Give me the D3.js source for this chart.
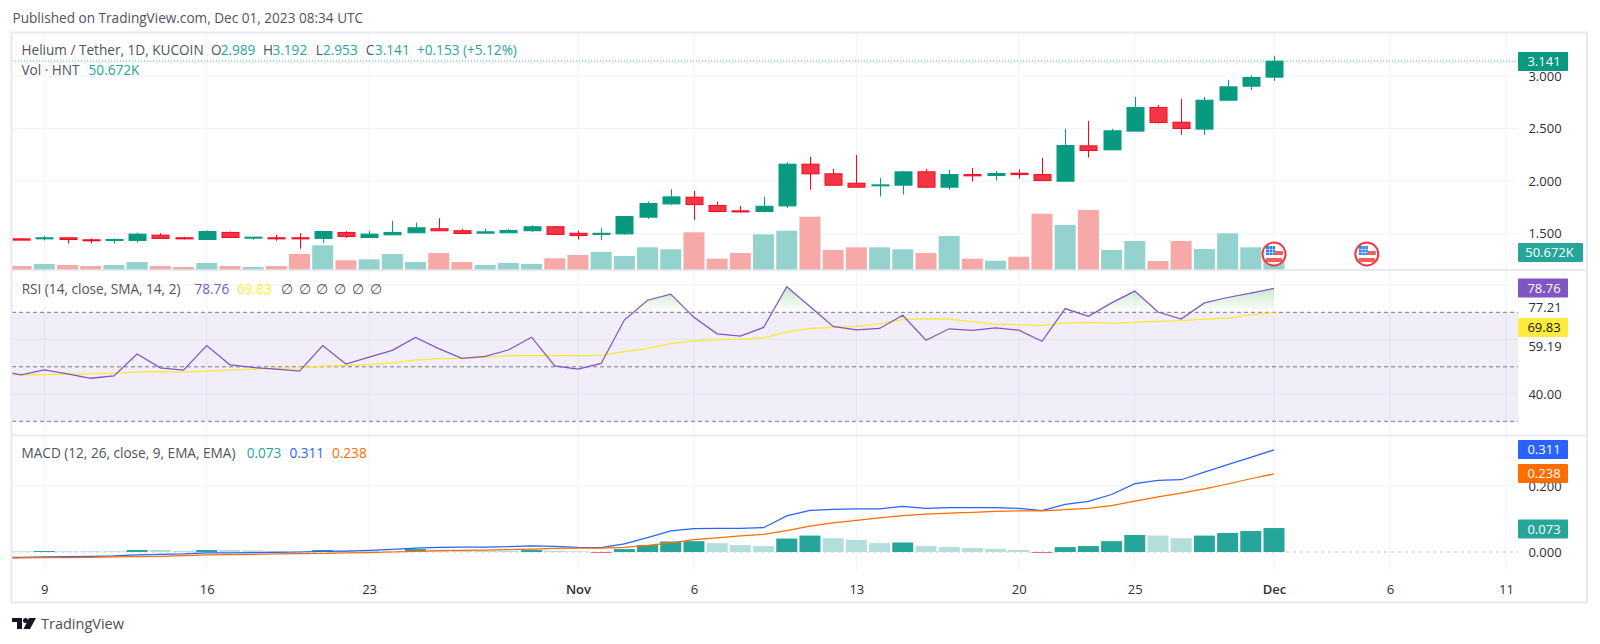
<!DOCTYPE html>
<html>
<head>
<meta charset="utf-8">
<title>Helium / Tether, 1D, KUCOIN</title>
<script src="https://cdn.jsdelivr.net/npm/d3@7"></script>
<style>
  html, body { margin: 0; padding: 0; background: #fff; }
  svg { display: block; }
  text { font-family: "Open Sans", "Noto Sans", sans-serif; font-size: 13px; fill: #131722; }
  .tick_label { fill: #2a2e39; }
</style>
</head>
<body>
<div id="chart"></div>
<script>
var up_color = "#089981",
    down_color = "#f23645",
    grid_color = "#f0f3fa",
    frame_color = "#e9e9f1"

// date, open, high, low, close, volume (K), rsi, rsi sma, macd, signal, histogram
var rows = [
  ["2023-10-07", 1.450, 1.460, 1.440, 1.452, 12.0, 48.77, 46.90, -0.017, -0.019, 0.002],
  ["2023-10-08", 1.452, 1.460, 1.440, 1.440, 11.9, 47.04, 47.04, -0.016, -0.018, 0.002],
  ["2023-10-09", 1.452, 1.481, 1.437, 1.462, 17.9, 48.89, 47.16, -0.015, -0.017, 0.003],
  ["2023-10-10", 1.462, 1.462, 1.408, 1.446, 14.9, 47.41, 47.28, -0.014, -0.017, 0.002],
  ["2023-10-11", 1.443, 1.456, 1.408, 1.437, 11.9, 45.80, 47.41, -0.013, -0.016, 0.002],
  ["2023-10-12", 1.437, 1.456, 1.408, 1.446, 14.9, 46.67, 47.65, -0.012, -0.015, 0.002],
  ["2023-10-13", 1.437, 1.510, 1.418, 1.497, 23.8, 54.69, 48.02, -0.009, -0.014, 0.006],
  ["2023-10-14", 1.487, 1.506, 1.456, 1.456, 11.9, 49.63, 48.27, -0.007, -0.013, 0.006],
  ["2023-10-15", 1.462, 1.471, 1.446, 1.452, 8.9, 48.77, 48.02, -0.006, -0.011, 0.003],
  ["2023-10-16", 1.446, 1.532, 1.446, 1.522, 20.9, 57.78, 48.40, -0.003, -0.009, 0.006],
  ["2023-10-17", 1.513, 1.522, 1.465, 1.465, 11.9, 50.74, 48.77, -0.003, -0.008, 0.006],
  ["2023-10-18", 1.462, 1.468, 1.443, 1.468, 8.9, 49.75, 49.14, -0.002, -0.007, 0.005],
  ["2023-10-19", 1.462, 1.490, 1.433, 1.452, 11.9, 49.14, 49.51, -0.001, -0.006, 0.003],
  ["2023-10-20", 1.462, 1.506, 1.357, 1.452, 47.7, 48.40, 49.63, 0.000, -0.005, 0.002],
  ["2023-10-21", 1.456, 1.522, 1.414, 1.522, 73.6, 57.78, 50.25, 0.002, -0.004, 0.006],
  ["2023-10-22", 1.513, 1.525, 1.462, 1.475, 28.9, 50.99, 50.49, 0.003, -0.003, 0.004],
  ["2023-10-23", 1.465, 1.525, 1.465, 1.497, 31.9, 53.58, 50.86, 0.005, -0.002, 0.003],
  ["2023-10-24", 1.490, 1.624, 1.490, 1.513, 47.7, 56.05, 51.48, 0.008, 0.000, 0.002],
  ["2023-10-25", 1.510, 1.605, 1.510, 1.557, 23.8, 60.74, 52.47, 0.012, 0.002, 0.009],
  ["2023-10-26", 1.548, 1.649, 1.529, 1.529, 50.7, 56.67, 52.96, 0.014, 0.004, 0.007],
  ["2023-10-27", 1.529, 1.548, 1.503, 1.503, 23.8, 53.09, 53.09, 0.015, 0.005, 0.005],
  ["2023-10-28", 1.506, 1.551, 1.506, 1.519, 14.9, 53.83, 53.46, 0.015, 0.006, 0.004],
  ["2023-10-29", 1.510, 1.548, 1.510, 1.532, 20.9, 56.17, 54.07, 0.016, 0.007, 0.003],
  ["2023-10-30", 1.529, 1.579, 1.519, 1.567, 17.9, 60.86, 54.07, 0.019, 0.009, 0.006],
  ["2023-10-31", 1.567, 1.573, 1.494, 1.494, 34.9, 50.37, 54.07, 0.017, 0.011, 0.004],
  ["2023-11-01", 1.505, 1.531, 1.445, 1.483, 44.7, 49.14, 54.07, 0.014, 0.012, 0.002],
  ["2023-11-02", 1.493, 1.556, 1.439, 1.505, 53.6, 51.23, 54.20, 0.013, 0.012, -0.002],
  ["2023-11-03", 1.499, 1.664, 1.490, 1.664, 41.7, 67.16, 55.56, 0.025, 0.014, 0.009],
  ["2023-11-04", 1.658, 1.807, 1.642, 1.788, 67.6, 74.44, 56.67, 0.044, 0.020, 0.021],
  ["2023-11-05", 1.784, 1.924, 1.775, 1.851, 61.7, 76.67, 58.52, 0.064, 0.028, 0.032],
  ["2023-11-06", 1.848, 1.908, 1.632, 1.778, 112.3, 68.15, 59.51, 0.071, 0.038, 0.033],
  ["2023-11-07", 1.769, 1.807, 1.712, 1.712, 33.7, 62.10, 60.00, 0.072, 0.043, 0.027],
  ["2023-11-08", 1.718, 1.765, 1.702, 1.712, 50.7, 61.23, 60.12, 0.072, 0.049, 0.021],
  ["2023-11-09", 1.712, 1.851, 1.702, 1.762, 106.4, 64.44, 60.62, 0.074, 0.054, 0.018],
  ["2023-11-10", 1.765, 2.181, 1.746, 2.162, 117.1, 79.38, 62.72, 0.110, 0.065, 0.041],
  ["2023-11-11", 2.162, 2.231, 1.918, 2.070, 158.8, 72.10, 64.07, 0.127, 0.079, 0.050],
  ["2023-11-12", 2.070, 2.117, 1.962, 1.962, 59.6, 64.81, 64.44, 0.130, 0.089, 0.042],
  ["2023-11-13", 1.981, 2.250, 1.943, 1.943, 67.6, 63.58, 64.81, 0.131, 0.096, 0.037],
  ["2023-11-14", 1.959, 2.029, 1.854, 1.965, 67.6, 64.07, 65.80, 0.131, 0.104, 0.027],
  ["2023-11-15", 1.962, 2.098, 1.873, 2.089, 61.7, 68.89, 67.28, 0.139, 0.111, 0.029],
  ["2023-11-16", 2.089, 2.117, 1.943, 1.943, 50.7, 59.75, 67.65, 0.133, 0.115, 0.018],
  ["2023-11-17", 1.943, 2.108, 1.918, 2.063, 101.3, 63.95, 67.53, 0.135, 0.118, 0.015],
  ["2023-11-18", 2.063, 2.127, 1.997, 2.051, 33.7, 63.33, 66.54, 0.135, 0.121, 0.012],
  ["2023-11-19", 2.054, 2.098, 2.006, 2.073, 27.7, 64.32, 65.68, 0.135, 0.124, 0.009],
  ["2023-11-20", 2.076, 2.114, 2.022, 2.063, 39.6, 63.46, 65.43, 0.133, 0.125, 0.006],
  ["2023-11-21", 2.063, 2.222, 2.006, 2.006, 167.8, 59.38, 65.19, 0.126, 0.125, -0.002],
  ["2023-11-22", 2.000, 2.498, 2.000, 2.339, 134.1, 71.36, 66.05, 0.145, 0.129, 0.015],
  ["2023-11-23", 2.336, 2.574, 2.225, 2.292, 178.8, 68.52, 66.30, 0.154, 0.133, 0.018],
  ["2023-11-24", 2.298, 2.498, 2.298, 2.479, 59.6, 73.46, 65.93, 0.175, 0.141, 0.033],
  ["2023-11-25", 2.476, 2.802, 2.476, 2.701, 86.4, 77.78, 66.30, 0.208, 0.155, 0.052],
  ["2023-11-26", 2.701, 2.723, 2.548, 2.558, 26.8, 70.12, 66.67, 0.218, 0.168, 0.050],
  ["2023-11-27", 2.561, 2.783, 2.441, 2.501, 86.4, 67.53, 66.91, 0.220, 0.179, 0.042],
  ["2023-11-28", 2.495, 2.802, 2.441, 2.770, 62.6, 73.46, 67.53, 0.243, 0.192, 0.050],
  ["2023-11-29", 2.770, 2.964, 2.770, 2.897, 109.4, 75.43, 67.90, 0.266, 0.207, 0.058],
  ["2023-11-30", 2.903, 3.005, 2.865, 2.986, 67.6, 77.04, 69.01, 0.288, 0.223, 0.064],
  ["2023-12-01", 2.989, 3.192, 2.953, 3.141, 50.672, 78.76, 69.83, 0.311, 0.238, 0.073]
]

var parse_date = d3.utcParse("%Y-%m-%d")
var data = rows.map(function (r) {
  return {
    "date": parse_date(r[0]), "open": r[1], "high": r[2], "low": r[3], "close": r[4],
    "volume": r[5], "rsi": r[6], "sma": r[7], "macd": r[8], "signal": r[9], "hist": r[10]
  }
})

var dimensions = {
  "plot_left": 12, "plot_right": 1518,
  "main_top": 33, "main_bottom": 270,
  "rsi_top": 271, "rsi_bottom": 435,
  "macd_top": 436, "macd_bottom": 570,
  "body_width": 17, "bar_width": 21
}

var svg = d3.select("#chart").append("svg")
  .attr("width", 1600)
  .attr("height", 644)

var defs = svg.append("defs")
function addClip(id, top, bottom) {
  defs.append("clipPath").attr("id", id).append("rect")
    .attr("x", dimensions.plot_left)
    .attr("y", top)
    .attr("width", dimensions.plot_right - dimensions.plot_left)
    .attr("height", bottom - top)
}
addClip("main_clip", dimensions.main_top, dimensions.main_bottom)
addClip("rsi_clip", dimensions.rsi_top, dimensions.rsi_bottom)
addClip("macd_clip", dimensions.macd_top, dimensions.macd_bottom)

// Scales
var x = d3.scaleUtc()
  .domain([parse_date("2023-10-09"), parse_date("2023-12-01")])
  .range([44.3, 1274])
var price = d3.scaleLinear().domain([1.5, 3]).range([233.8, 76])
var volume = d3.scaleLinear().domain([0, 178.8]).range([270, 210])
var rsi = d3.scaleLinear().domain([30, 70]).range([421.3, 312.3])
var macd = d3.scaleLinear().domain([0, 0.2]).range([552, 486.3])

// Grid
var time_ticks = ["2023-10-09", "2023-10-16", "2023-10-23", "2023-11-01", "2023-11-06", "2023-11-13",
  "2023-11-20", "2023-11-25", "2023-12-01", "2023-12-06", "2023-12-11"].map(parse_date)

var grid = svg.append("g").attr("class", "grid")
grid.selectAll("line.v").data(time_ticks).join("line")
  .attr("class", "v")
  .attr("x1", function (d) { return x(d) })
  .attr("x2", function (d) { return x(d) })
  .attr("y1", dimensions.main_top)
  .attr("y2", dimensions.macd_bottom)
  .attr("stroke", grid_color)

var h_lines = [3, 2.5, 2, 1.5].map(function (d) { return price(d) })
  .concat([80, 60, 40].map(function (d) { return rsi(d) }))
  .concat([macd(0.2)])
grid.selectAll("line.h").data(h_lines).join("line")
  .attr("class", "h")
  .attr("x1", dimensions.plot_left)
  .attr("x2", dimensions.plot_right)
  .attr("y1", function (d) { return d })
  .attr("y2", function (d) { return d })
  .attr("stroke", grid_color)

// Last price line
svg.append("line")
  .attr("x1", dimensions.plot_left)
  .attr("x2", dimensions.plot_right)
  .attr("y1", price(3.141))
  .attr("y2", price(3.141))
  .attr("stroke", up_color)
  .attr("stroke-opacity", 0.7)
  .attr("stroke-dasharray", "1,2")

// Volume
var main_space = svg.append("g").attr("clip-path", "url(#main_clip)")
main_space.selectAll("rect.volume").data(data).join("rect")
  .attr("class", "volume")
  .attr("x", function (d) { return x(d.date) - dimensions.bar_width / 2 })
  .attr("y", function (d) { return volume(d.volume) })
  .attr("width", dimensions.bar_width)
  .attr("height", function (d) { return volume(0) - volume(d.volume) })
  .attr("fill", function (d) { return d.close >= d.open ? "#94d3cd" : "#f7a9a7" })

// Candles
var candles = main_space.selectAll("g.candle").data(data).join("g")
  .attr("class", "candle")
candles.append("line")
  .attr("x1", function (d) { return Math.round(x(d.date)) + 0.5 })
  .attr("x2", function (d) { return Math.round(x(d.date)) + 0.5 })
  .attr("y1", function (d) { return price(d.high) })
  .attr("y2", function (d) { return price(d.low) })
  .attr("stroke", function (d) { return d.close >= d.open ? up_color : "#f7081f" })
candles.append("rect")
  .attr("x", function (d) { return Math.round(x(d.date)) + 0.5 - dimensions.body_width / 2 })
  .attr("y", function (d) { return price(Math.max(d.open, d.close)) })
  .attr("width", dimensions.body_width)
  .attr("height", function (d) { return Math.max(1, Math.abs(price(d.open) - price(d.close))) })
  .attr("fill", function (d) { return d.close >= d.open ? up_color : down_color })
  .attr("stroke", function (d) { return d.close >= d.open ? up_color : "#f7081f" })

// Economic event flags on the main pane
function drawFlag(cx, cy) {
  var flag = svg.append("g").attr("transform", "translate(" + cx + "," + cy + ")")
  flag.append("circle").attr("r", 11.5).attr("fill", "#fff").attr("stroke", "#f23645").attr("stroke-width", 2)
  flag.append("rect").attr("x", -8).attr("y", -8).attr("width", 9).attr("height", 9).attr("fill", "#2f80ed")
  d3.range(1, 3).forEach(function (i) {
    flag.append("rect").attr("x", -8).attr("y", -8 + i * 3).attr("width", 9).attr("height", 0.7).attr("fill", "#cfe3fb")
    flag.append("rect").attr("x", -8 + i * 3).attr("y", -8).attr("width", 0.7).attr("height", 9).attr("fill", "#cfe3fb")
  })
  flag.append("rect").attr("x", 1).attr("y", -3).attr("width", 8).attr("height", 4).attr("fill", "#f0605a")
  flag.append("rect").attr("x", -8).attr("y", 4).attr("width", 16).attr("height", 4).attr("fill", "#f0605a")
}
drawFlag(x(parse_date("2023-12-01")), 254)
drawFlag(x(parse_date("2023-12-05")), 254)

// RSI pane
var rsi_space = svg.append("g")
rsi_space.append("rect")
  .attr("x", dimensions.plot_left)
  .attr("y", rsi(70))
  .attr("width", dimensions.plot_right - dimensions.plot_left)
  .attr("height", rsi(30) - rsi(70))
  .attr("fill", "#7e57c2")
  .attr("fill-opacity", 0.1)

var gradient = defs.append("linearGradient")
  .attr("id", "overbought")
  .attr("gradientUnits", "userSpaceOnUse")
  .attr("x1", 0).attr("x2", 0)
  .attr("y1", rsi(80)).attr("y2", rsi(70))
gradient.append("stop").attr("offset", 0).attr("stop-color", "#4caf50").attr("stop-opacity", 0.32)
gradient.append("stop").attr("offset", 1).attr("stop-color", "#4caf50").attr("stop-opacity", 0)

defs.append("clipPath").attr("id", "above_70").append("rect")
  .attr("x", dimensions.plot_left)
  .attr("y", dimensions.rsi_top)
  .attr("width", dimensions.plot_right - dimensions.plot_left)
  .attr("height", rsi(70) - dimensions.rsi_top)

rsi_space.append("path")
  .datum(data)
  .attr("clip-path", "url(#above_70)")
  .attr("fill", "url(#overbought)")
  .attr("d", d3.area()
    .x(function (d) { return x(d.date) })
    .y0(rsi(70))
    .y1(function (d) { return rsi(d.rsi) }))

rsi_space.selectAll("line.band").data([70, 50, 30]).join("line")
  .attr("class", "band")
  .attr("x1", dimensions.plot_left)
  .attr("x2", dimensions.plot_right)
  .attr("y1", function (d) { return rsi(d) })
  .attr("y2", function (d) { return rsi(d) })
  .attr("stroke", "#787b86")
  .attr("stroke-dasharray", "4,3")

function drawLine(parent, clip, y_scale, key, color) {
  parent.append("path")
    .datum(data)
    .attr("clip-path", "url(#" + clip + ")")
    .attr("fill", "none")
    .attr("stroke", color)
    .attr("stroke-width", 1.25)
    .attr("d", d3.line()
      .x(function (d) { return x(d.date) })
      .y(function (d) { return y_scale(d[key]) }))
}
drawLine(rsi_space, "rsi_clip", rsi, "sma", "#ffe733")
drawLine(rsi_space, "rsi_clip", rsi, "rsi", "#7e57c2")

// MACD pane
var macd_space = svg.append("g")
macd_space.append("line")
  .attr("x1", dimensions.plot_left)
  .attr("x2", dimensions.plot_right)
  .attr("y1", macd(0))
  .attr("y2", macd(0))
  .attr("stroke", "#d8d9de")
  .attr("stroke-width", 1.5)
  .attr("stroke-dasharray", "3,4")

macd_space.append("g").attr("clip-path", "url(#macd_clip)")
  .selectAll("rect").data(data).join("rect")
  .attr("x", function (d) { return x(d.date) - dimensions.bar_width / 2 })
  .attr("y", function (d) { return Math.min(macd(d.hist), macd(0)) })
  .attr("width", dimensions.bar_width)
  .attr("height", function (d) { return Math.abs(macd(d.hist) - macd(0)) })
  .attr("fill", function (d, i) {
    var rising = i > 0 && d.hist > data[i - 1].hist
    if (d.hist < 0) return rising ? "#ffcdd2" : "#ff1744"
    return rising ? "#26a69a" : "#b2dfdb"
  })
drawLine(macd_space, "macd_clip", macd, "macd", "#2962ff")
drawLine(macd_space, "macd_clip", macd, "signal", "#ff6d00")

// Axes
var time_axis = svg.append("g")
  .attr("transform", "translate(0," + 581 + ")")
  .call(d3.axisBottom(x)
    .tickValues(time_ticks)
    .tickSize(0)
    .tickPadding(4)
    .tickFormat(function (d) {
      var month_start = d.getUTCDate() === 1
      return month_start ? d3.utcFormat("%b")(d) : d3.utcFormat("%-d")(d)
    }))
time_axis.select(".domain").remove()
time_axis.selectAll("text")
  .attr("class", "tick_label")
  .style("font-size", "13px")
  .style("font-family", "\"Open Sans\", sans-serif")
  .style("font-weight", function (d) { return d.getUTCDate() === 1 ? 600 : 400 })

function priceAxis(y_scale, values, digits) {
  var axis = svg.append("g")
    .attr("transform", "translate(1545,0)")
    .call(d3.axisRight(y_scale)
      .tickValues(values)
      .tickSize(0)
      .tickPadding(0)
      .tickFormat(d3.format("." + digits + "f")))
  axis.select(".domain").remove()
  axis.selectAll("text")
    .attr("class", "tick_label")
    .attr("text-anchor", "middle")
    .style("font-size", "13px")
    .style("font-family", "\"Open Sans\", sans-serif")
}
priceAxis(price, [3, 2.5, 2, 1.5], 3)
priceAxis(rsi, [40], 2)
priceAxis(macd, [0.2, 0], 3)

// These two RSI labels sit away from their value on the source chart
svg.selectAll("text.rsi_label").data([["77.21", 308], ["59.19", 347]]).join("text")
  .attr("class", "rsi_label tick_label")
  .attr("x", 1545)
  .attr("y", function (d) { return d[1] })
  .attr("dy", "0.32em")
  .attr("text-anchor", "middle")
  .text(function (d) { return d[0] })

// Price badges
function badge(label, top, width, color, text_color) {
  var g = svg.append("g")
  g.append("rect")
    .attr("x", dimensions.plot_right)
    .attr("y", top)
    .attr("width", width)
    .attr("height", 19)
    .attr("rx", 1)
    .attr("fill", color)
  g.append("text")
    .attr("x", dimensions.plot_right + width / 2 + (width > 60 ? -1 : 1))
    .attr("y", top + 14)
    .attr("text-anchor", "middle")
    .style("fill", text_color)
    .text(label)
}
badge("3.141", 52, 50, up_color, "#fff")
badge("50.672K", 243, 65, "#26a69a", "#fff")
badge("78.76", 278.5, 50, "#7e57c2", "#fff")
badge("69.83", 318, 50, "#ffeb3b", "#131722")
badge("0.311", 440, 50, "#2962ff", "#fff")
badge("0.238", 464, 50, "#ff6d00", "#fff")
badge("0.073", 519.5, 50, "#26a69a", "#fff")

// Pane borders and outer frame
svg.selectAll("line.pane").data([270, 435.5]).join("line")
  .attr("class", "pane")
  .attr("x1", 12)
  .attr("x2", 1587)
  .attr("y1", function (d) { return d })
  .attr("y2", function (d) { return d })
  .attr("stroke", "#e3e3ee")
  .attr("stroke-width", 1.5)
svg.append("rect")
  .attr("x", 11.5)
  .attr("y", 32.5)
  .attr("width", 1575.5)
  .attr("height", 570)
  .attr("fill", "none")
  .attr("stroke", frame_color)
  .attr("stroke-width", 2)

// Legends
function legend(items, y) {
  items.forEach(function (item) {
    svg.append("text")
      .attr("x", item[0])
      .attr("y", y)
      .style("font-size", "13.6px")
      .style("fill", item[2] || "#50535e")
      .text(item[1])
  })
}
legend([[12.5, "Published on TradingView.com, Dec 01, 2023 08:34 UTC"]], 23)
var teal = "#26a69a"
legend([
  [21.5, "Helium / Tether, 1D, KUCOIN"],
  [211, "O"], [220.7, "2.989", teal],
  [263, "H"], [272.5, "3.192", teal],
  [315.7, "L"], [323, "2.953", teal],
  [365.7, "C"], [375, "3.141", teal],
  [417, "+0.153 (+5.12%)", teal]
], 54.5)
legend([[21.5, "Vol · HNT"], [88.6, "50.672K", teal]], 74.5)
legend([
  [21.7, "RSI (14, close, SMA, 14, 2)"],
  [194.5, "78.76", "#7e57c2"],
  [237, "69.83", "#ffeb3b"]
].concat(d3.range(6).map(function (i) { return [280.7 + i * 17.8, "∅"] })), 294)
legend([
  [21.5, "MACD (12, 26, close, 9, EMA, EMA)"],
  [246.7, "0.073", teal],
  [289.4, "0.311", "#2962ff"],
  [332, "0.238", "#ff6d00"]
], 458)

// TradingView mark
var mark = svg.append("g").attr("transform", "translate(12,618)").attr("fill", "#131722")
mark.append("path").attr("d", "M0 0H10V11H5V4H0Z")
mark.append("circle").attr("cx", 13.5).attr("cy", 2.5).attr("r", 2.5)
mark.append("path").attr("d", "M24 0L18 11H11.5L17 0Z")
svg.append("text")
  .attr("x", 41)
  .attr("y", 628.5)
  .style("font-size", "14.5px")
  .style("fill", "#4a4e59")
  .text("TradingView")
</script>
</body>
</html>
